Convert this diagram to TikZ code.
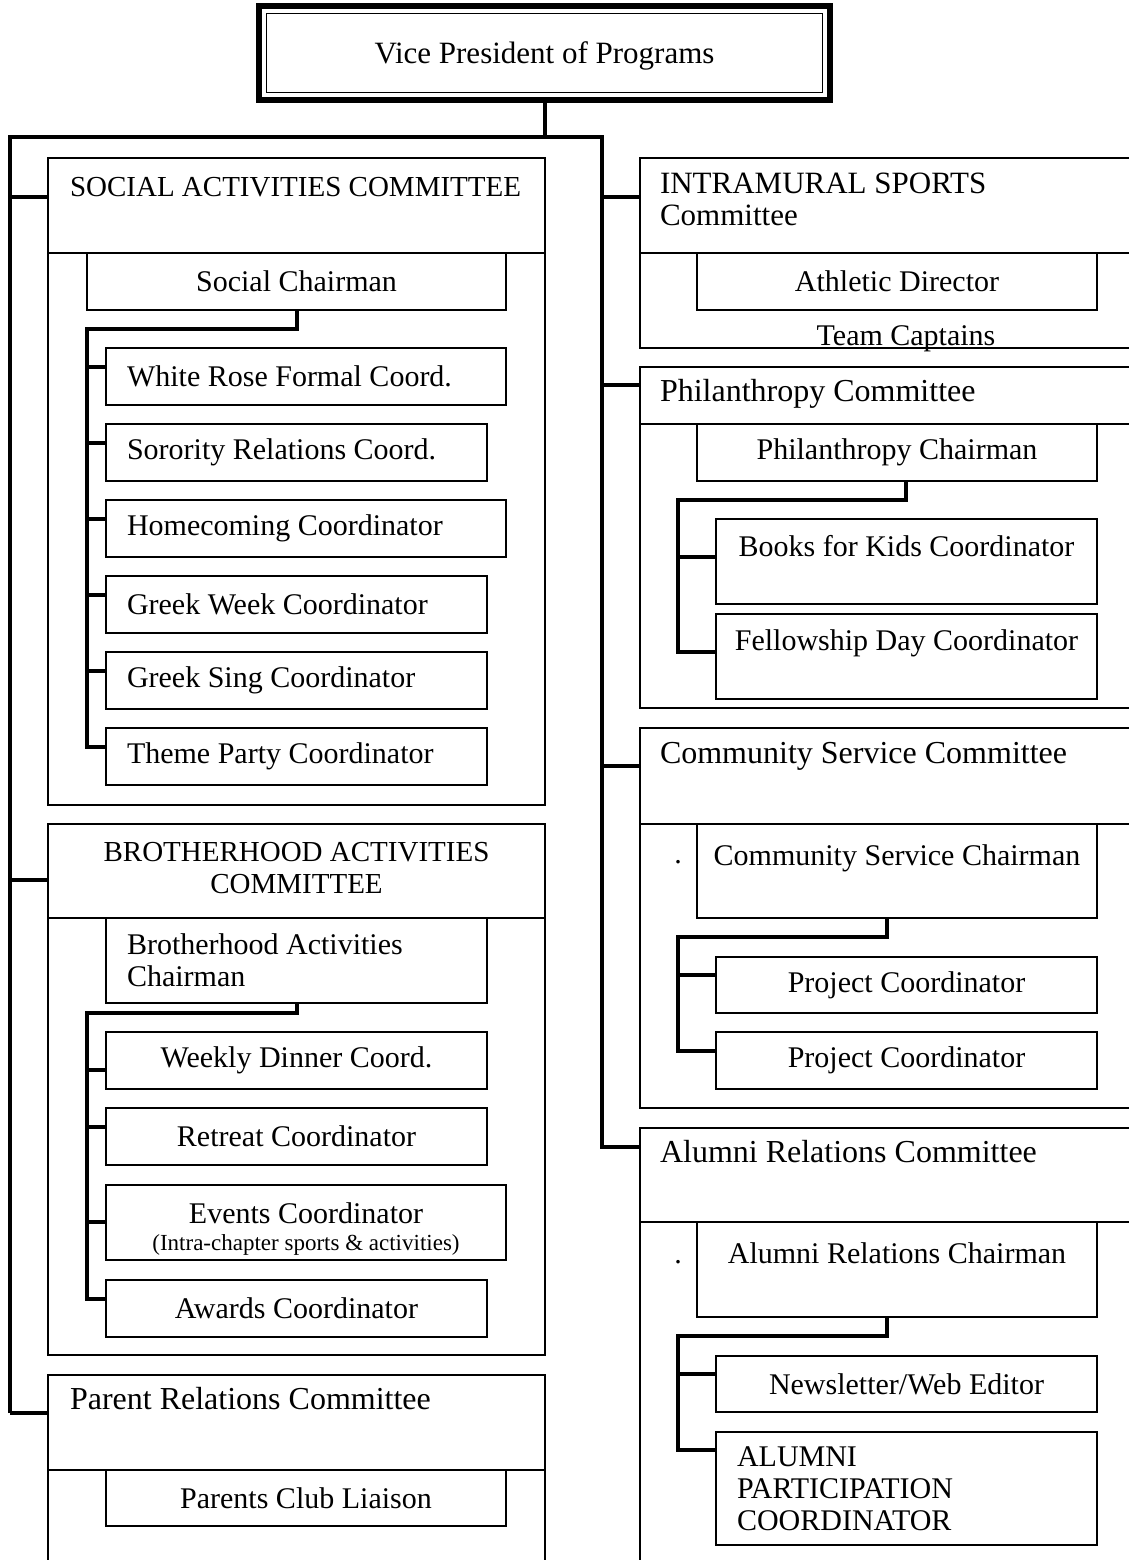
\documentclass[tikz,border=0pt]{standalone}
\usepackage{fontspec}
\setmainfont{Liberation Serif}
\begin{document}
\begin{tikzpicture}[x=1pt,y=-1pt,
  every node/.style={font=\fontsize{30}{32}\selectfont, inner sep=0pt, outer sep=0pt},
  frame/.style={draw, line width=1.6pt, anchor=north west},
  entry/.style={draw, line width=1.6pt, anchor=north west, minimum height=57pt},
  lentry/.style={entry, align=flush left, text width=#1, inner xsep=21pt},
  ttl/.style={anchor=west, align=flush left, font=\fontsize{32}{32}\selectfont},
  link/.style={line width=4pt}]
\useasboundingbox (0,0) rectangle (1129,1560);
\clip (0,0) rectangle (1129,1560);

\node[draw, line width=6pt, minimum width=571pt, minimum height=94pt,
  font=\fontsize{31}{33}\selectfont] (vp) at (544.5,53) {\raisebox{-3pt}[\height][\depth]{Vice President of Programs}};
\draw[line width=1.6pt] ([xshift=7.5pt,yshift=-7.5pt]vp.north west) rectangle ([xshift=-7.5pt,yshift=7.5pt]vp.south east);

\node[frame, minimum width=497pt, minimum height=647pt] (social) at (48,158) {};
\node[frame, minimum width=497pt, minimum height=531pt] (brother) at (48,824) {};
\node[frame, minimum width=497pt, minimum height=200pt] (parent) at (48,1375) {};
\node[frame, minimum width=500pt, minimum height=190pt] (sports) at (640,158) {};
\node[frame, minimum width=500pt, minimum height=341pt] (phil) at (640,367) {};
\node[frame, minimum width=500pt, minimum height=380pt] (comm) at (640,728) {};
\node[frame, minimum width=500pt, minimum height=450pt] (alum) at (640,1128) {};

\node[ttl, font=\fontsize{29}{32}\selectfont] (socialttl) at (70,187) {SOCIAL ACTIVITIES COMMITTEE};
\node[align=center, font=\fontsize{29}{32}\selectfont] (brotherttl) at (296.5,868) {BROTHERHOOD ACTIVITIES\\COMMITTEE};
\node[ttl] (parentttl) at (70,1399) {Parent Relations Committee};
\node[ttl, font=\fontsize{31}{32}\selectfont] (sportsttl) at (660,199) {INTRAMURAL SPORTS\\Committee};
\node[ttl] (philttl) at (660,394) {Philanthropy Committee};
\node[ttl] (commttl) at (660,756) {Community Service Committee};
\node[ttl] (alumttl) at (660,1152) {Alumni Relations Committee};

\node[entry, minimum width=419pt] (socchair) at (87,253) {Social Chairman};
\node[lentry=358pt] (rose) at (106,348) {White Rose Formal Coord.};
\node[lentry=339pt] (soro) at (106,424) {Sorority Relations Coord.};
\node[lentry=358pt] (home) at (106,500) {Homecoming Coordinator};
\node[lentry=339pt] (gweek) at (106,576) {Greek Week Coordinator};
\node[lentry=339pt] (gsing) at (106,652) {Greek Sing Coordinator};
\node[lentry=339pt] (theme) at (106,728) {Theme Party Coordinator};

\node[lentry=339pt, minimum height=85pt] (brochair) at (106,918) {Brotherhood Activities\\Chairman};
\node[entry, minimum width=381pt] (dinner) at (106,1032) {Weekly Dinner Coord.};
\node[entry, minimum width=381pt] (retreat) at (106,1108) {Retreat Coordinator};
\node[entry, minimum width=400pt, minimum height=75pt, align=center] (events) at (106,1185)
  {\rule{0pt}{33pt}Events Coordinator\\[-5pt]{\fontsize{23}{24}\selectfont(Intra-chapter sports \& activities)}};
\node[entry, minimum width=381pt] (awards) at (106,1280) {Awards Coordinator};

\node[entry, minimum width=400pt, minimum height=56pt] (liaison) at (106,1470) {Parents Club Liaison};

\node[entry, minimum width=400pt] (athdir) at (697,253) {Athletic Director};
\node[anchor=base] (captains) at (906,345) {Team Captains};

\node[entry, minimum width=400pt] (philchair) at (697,424) {Philanthropy Chairman};
\node[entry, minimum width=381pt, minimum height=85pt, align=center] (books) at (716,519) {Books for Kids Coordinator\\\mbox{}};
\node[entry, minimum width=381pt, minimum height=85pt, align=center] (fellow) at (716,614) {Fellowship Day Coordinator\\\mbox{}};

\node[anchor=base] (commdot) at (678,863) {.};
\node[entry, minimum width=400pt, minimum height=94pt, align=center] (commchair) at (697,824) {Community Service Chairman\\\mbox{}};
\node[entry, minimum width=381pt, minimum height=56pt] (proj1) at (716,957) {Project Coordinator};
\node[entry, minimum width=381pt] (proj2) at (716,1032) {Project Coordinator};

\node[anchor=base] (alumdot) at (678,1263) {.};
\node[entry, minimum width=400pt, minimum height=95pt, align=center] (alumchair) at (697,1222) {Alumni Relations Chairman\\\mbox{}};
\node[entry, minimum width=381pt, minimum height=56pt] (news) at (716,1356) {Newsletter/Web Editor};
\node[lentry=339pt, minimum height=113pt] (alumpart) at (716,1432) {ALUMNI\\PARTICIPATION\\COORDINATOR};

\foreach \f/\c in {social/socchair, brother/brochair, parent/liaison, sports/athdir, phil/philchair, comm/commchair, alum/alumchair}
  \draw[line width=1.6pt] (\f.west |- \c.north) -- (\f.east |- \c.north);

\foreach \n/\dy in {social/39, brother/56, parent/38, sports/39, phil/18, comm/38, alum/19,
    rose/19, soro/19, home/19, gweek/19, gsing/19, theme/19,
    dinner/38, retreat/19, events/37, awards/19,
    books/38, fellow/38, proj1/18, proj2/19, news/18, alumpart/18}
  \coordinate (\n-in) at ([yshift=-\dy pt]\n.north west);

\coordinate (bl) at (10,137);
\coordinate (br) at (602,137);
\coordinate (socbus) at (87,329);
\coordinate (brobus) at (87,1013);
\coordinate (philbus) at (678,500);
\coordinate (commbus) at (678,937);
\coordinate (alumbus) at (678,1336);

\draw[link] (vp.south) -- (vp.south |- bl);
\draw[link] (bl |- parent-in) |- (br) |- (alum-in);
\draw[link] (bl |- parent-in) -- (parent-in);
\foreach \f in {social, brother} \draw[link] (bl |- \f-in) -- (\f-in);
\foreach \f in {sports, phil, comm} \draw[link] (br |- \f-in) -- (\f-in);

\draw[link] (socchair.south) |- (socbus) |- (theme-in);
\foreach \n in {rose, soro, home, gweek, gsing} \draw[link] (socbus |- \n-in) -- (\n-in);

\draw[link] (brochair.south) |- (brobus) |- (awards-in);
\foreach \n in {dinner, retreat, events} \draw[link] (brobus |- \n-in) -- (\n-in);

\draw[link] ([xshift=9pt]philchair.south) |- (philbus) |- (fellow-in);
\draw[link] (philbus |- books-in) -- (books-in);

\draw[link] ([xshift=-10pt]commchair.south) |- (commbus) |- (proj2-in);
\draw[link] (commbus |- proj1-in) -- (proj1-in);

\draw[link] ([xshift=-10pt]alumchair.south) |- (alumbus) |- (alumpart-in);
\draw[link] (alumbus |- news-in) -- (news-in);
\end{tikzpicture}
\end{document}
